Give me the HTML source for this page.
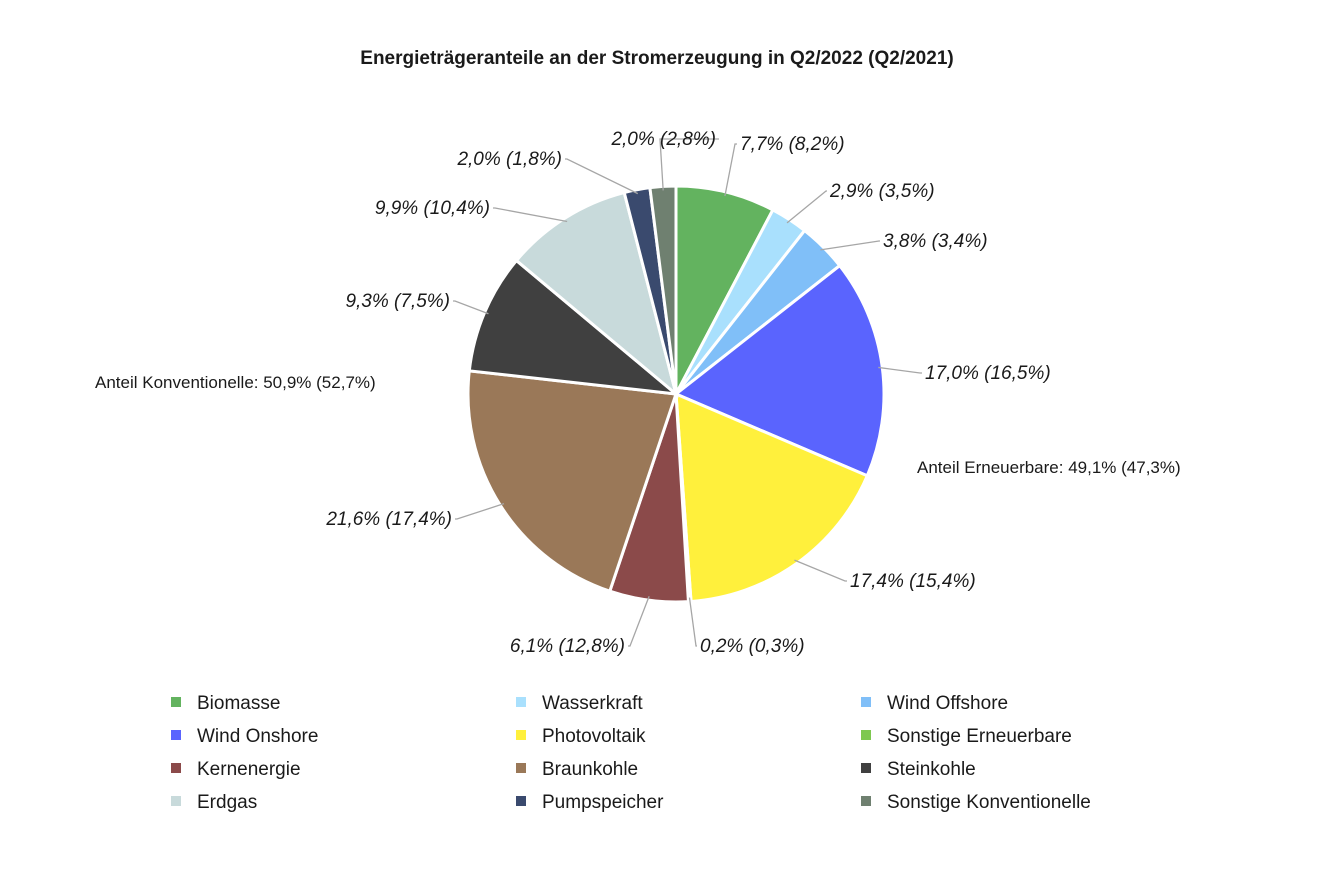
<!DOCTYPE html>
<html><head><meta charset="utf-8"><style>
body{margin:0;background:#fff;}
svg text{font-family:"Liberation Sans",sans-serif;fill:#1a1a1a;}
</style></head><body>
<svg width="1334" height="889">
<text x="657" y="64" text-anchor="middle" font-size="19" font-weight="bold">Energieträgeranteile an der Stromerzeugung in Q2/2022 (Q2/2021)</text>
<g id="slices"></g><g id="labels"></g><g id="legend"></g>
<text x="917" y="473" font-size="17">Anteil Erneuerbare: 49,1% (47,3%)</text>
<text x="95" y="388" font-size="17">Anteil Konventionelle: 50,9% (52,7%)</text>
</svg>
<script>
const categories=["Biomasse","Wasserkraft","Wind Offshore","Wind Onshore","Photovoltaik","Sonstige Erneuerbare","Kernenergie","Braunkohle","Steinkohle","Erdgas","Pumpspeicher","Sonstige Konventionelle"];
const values2022=[7.7,2.9,3.8,17.0,17.4,0.2,6.1,21.6,9.3,9.9,2.0,2.0];
const labels2022=["7,7%","2,9%","3,8%","17,0%","17,4%","0,2%","6,1%","21,6%","9,3%","9,9%","2,0%","2,0%"];
const labels2021=["8,2%","3,5%","3,4%","16,5%","15,4%","0,3%","12,8%","17,4%","7,5%","10,4%","1,8%","2,8%"];
const colors=["#63b35f","#a9e0fd","#80bff8","#5a64fe","#fff03c","#7ec850","#8b4a4a","#9a7858","#404040","#c8dadb","#3a4a6e","#6f8070"];
// label anchor layout (positions, not data): [textX, baselineY, anchor, elbowX]
const labelLayout=[[740,150,"start",735],[830,197,"start",826],[883,247,"start",879],[925,379,"start",920],[850,587,"start",845],[700,652,"start",696],[625,652,"end",630],[452,525,"end",457],[450,307,"end",455],[490,214,"end",495],[562,165,"end",567],[716,145,"end",660]];
const cx=676,cy=394,r=208,NS="http://www.w3.org/2000/svg";
const total=values2022.reduce((a,b)=>a+b,0);
const sl=document.getElementById("slices"),lb=document.getElementById("labels"),lg=document.getElementById("legend");
function pt(a,rr){return [cx+rr*Math.sin(a),cy-rr*Math.cos(a)];}
let acc=0;
values2022.forEach((v,i)=>{
 const a0=acc/total*2*Math.PI;acc+=v;const a1=acc/total*2*Math.PI;
 const p0=pt(a0,r),p1=pt(a1,r);
 const p=document.createElementNS(NS,"path");
 p.setAttribute("d",`M${cx},${cy}L${p0[0]},${p0[1]}A${r},${r} 0 ${a1-a0>Math.PI?1:0} 1 ${p1[0]},${p1[1]}Z`);
 p.setAttribute("fill",colors[i]);p.setAttribute("stroke","#fff");p.setAttribute("stroke-width","3");
 
 
 sl.appendChild(p);
 const am=(a0+a1)/2,e=pt(am,r-4),L=labelLayout[i];
 const ln=document.createElementNS(NS,"polyline");
 ln.setAttribute("points",`${e[0]},${e[1]} ${L[3]},${L[1]-6} ${L[2]=="start"?L[0]-3:L[0]+3},${L[1]-6}`);
 ln.setAttribute("fill","none");ln.setAttribute("stroke","#a6a6a6");ln.setAttribute("stroke-width","1.3");
 
 
 lb.appendChild(ln);
 const t=document.createElementNS(NS,"text");
 t.setAttribute("x",L[0]);t.setAttribute("y",L[1]);t.setAttribute("text-anchor",L[2]);
 t.setAttribute("font-size","19");t.setAttribute("font-style","italic");
 t.textContent=labels2022[i]+" ("+labels2021[i]+")";
 
 
 lb.appendChild(t);
 const col=i%3,row=Math.floor(i/3),x=171+col*345,y=702+row*33;
 const g=document.createElementNS(NS,"g");
 
 
 const sq=document.createElementNS(NS,"rect");
 sq.setAttribute("x",x);sq.setAttribute("y",y-5);sq.setAttribute("width",10);sq.setAttribute("height",10);sq.setAttribute("fill",colors[i]);
 const tx=document.createElementNS(NS,"text");
 tx.setAttribute("x",x+26);tx.setAttribute("y",y+7);tx.setAttribute("font-size","19");tx.textContent=categories[i];
 g.appendChild(sq);g.appendChild(tx);lg.appendChild(g);
});
</script>
</body></html>
